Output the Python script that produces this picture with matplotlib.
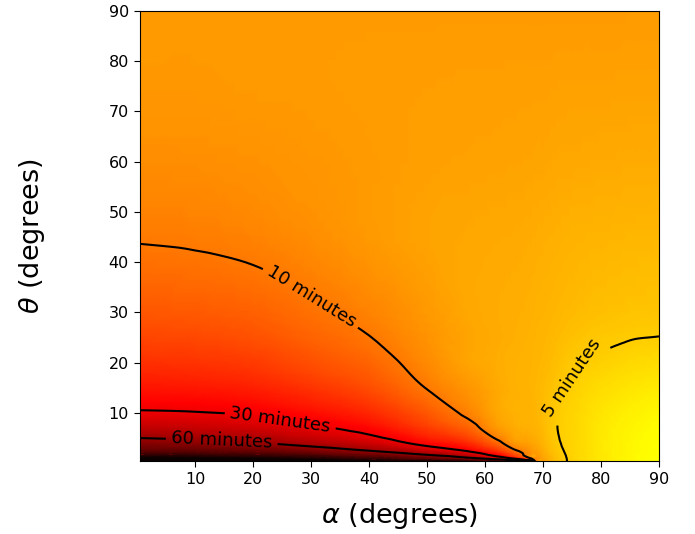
import numpy as np
import matplotlib
matplotlib.use('Agg')
import matplotlib.pyplot as plt
import matplotlib.tri as mtri

alpha_deg = [0, 10, 20, 30, 40, 50, 57, 62, 65, 68, 69, 70, 72, 75, 80, 85, 90]
theta_deg = [0, 1, 2, 4, 7, 10, 15, 20, 25, 30, 45, 60, 75, 90]

# Time in minutes, one row per theta value, one column per alpha value.
minutes_th0 = [300, 300, 300, 300, 300, 300, 300, 300, 300, 300, 9.6, 7.5, 5.9, 4.8, 4.0, 3.52, 3.23]
minutes_th1 = [207, 203, 192, 170, 134, 94, 67, 43, 26, 9.0, 8.2, 7.0, 5.7, 4.78, 4.0, 3.52, 3.23]
minutes_th2 = [117, 115, 107, 94, 73, 51, 35.5, 22, 13, 8.0, 7.4, 6.6, 5.5, 4.75, 3.99, 3.53, 3.24]
minutes_th4 = [72, 68, 61.5, 51.2, 40.3, 25.6, 19.0, 11.5, 7.8, 7.0, 6.6, 6.1, 5.25, 4.7, 3.98, 3.55, 3.27]
minutes_th7 = [45, 42.5, 38.8, 32.4, 25.5, 16.5, 12.0, 7.65, 6.6, 6.3, 6.1, 5.8, 5.1, 4.68, 4.0, 3.62, 3.35]
minutes_th10 = [31.5, 30.6, 28.6, 24.2, 19.4, 13.1, 9.26, 6.85, 6.3, 6.2, 6.0, 5.75, 5.15, 4.72, 4.1, 3.75, 3.5]
minutes_th15 = [22.7, 22.0, 20.6, 17.5, 14.2, 9.87, 7.83, 6.68, 6.31, 6.1, 5.95, 5.8, 5.4, 4.9, 4.4, 4.1, 3.9]
minutes_th20 = [18.1, 17.6, 16.5, 13.9, 11.7, 8.62, 6.96, 6.5, 6.3, 6.15, 6.05, 5.95, 5.65, 5.15, 4.85, 4.55, 4.4]
minutes_th25 = [15.2, 14.8, 13.8, 11.9, 10.1, 8.0, 6.95, 6.6, 6.4, 6.2, 6.1, 6.05, 5.85, 5.5, 5.2, 5.05, 4.98]
minutes_th30 = [13.2, 12.8, 12.1, 10.6, 9.1, 7.6, 6.8, 6.55, 6.45, 6.3, 6.2, 6.15, 6.0, 5.8, 5.55, 5.4, 5.3]
minutes_th45 = [9.8, 9.6, 9.16, 8.38, 7.6, 7.0, 6.8, 6.7, 6.65, 6.55, 6.5, 6.45, 6.35, 6.2, 6.1, 6.0, 5.95]
minutes_th60 = [8.44, 8.36, 8.12, 7.81, 7.5, 7.2, 7.1, 7.05, 7.0, 6.95, 6.9, 6.9, 6.8, 6.75, 6.65, 6.6, 6.55]
minutes_th75 = [7.72, 7.72, 7.57, 7.5, 7.38, 7.3, 7.25, 7.23, 7.22, 7.2, 7.2, 7.2, 7.15, 7.1, 7.1, 7.05, 7.05]
minutes_th90 = [7.5] * 17

# Contour levels and their labels.
levels_min = [5, 10, 30, 60]
level_names = ['5 minutes', '10 minutes', '30 minutes', '60 minutes']

minutes = np.array([minutes_th0, minutes_th1, minutes_th2, minutes_th4, minutes_th7,
                    minutes_th10, minutes_th15, minutes_th20, minutes_th25, minutes_th30,
                    minutes_th45, minutes_th60, minutes_th75, minutes_th90])
log_minutes = np.log10(minutes)

# Let matplotlib smooth the coarse grid (local cubic) so the lines come out round.
A, T = np.meshgrid(alpha_deg, theta_deg)
triang = mtri.Triangulation(A.ravel(), T.ravel())
interp = mtri.CubicTriInterpolator(triang, log_minutes.ravel(), kind='geom')
refiner = mtri.UniformTriRefiner(triang)
tri_fine, log_fine = refiner.refine_field(log_minutes.ravel(), triinterpolator=interp, subdiv=3)

fig = plt.figure(figsize=(6.95, 5.34), dpi=100)
ax = fig.add_axes([140 / 695, 73.3 / 534, 519 / 695, 450 / 534])

# Colour map: short times are yellow, long times black.
ax.tripcolor(tri_fine, log_fine, cmap='hot_r', vmin=-0.086, vmax=2.295,
             shading='gouraud', rasterized=True)

cs = ax.tricontour(tri_fine, log_fine, levels=np.log10(levels_min),
                   colors='k', linewidths=1.5)
fmt = {lev: name for lev, name in zip(cs.levels, level_names)}
ax.clabel(cs, fmt=fmt, fontsize=13, inline=True,
          manual=[(75, 17), (30, 33), (24.7, 8.6), (14.6, 4.6)])

ax.set_xlim(0.5, 90)
ax.set_ylim(0.5, 90)
ax.set_xticks(range(10, 91, 10))
ax.set_yticks(range(10, 91, 10))
ax.tick_params(labelsize=11.5, length=4.5)

ax.set_xlabel(r'$\alpha$ (degrees)', fontsize=19.5, labelpad=10)
ax.set_ylabel(r'$\theta$ (degrees)', fontsize=19.5, labelpad=44)

fig.savefig('out.png', dpi=100)
